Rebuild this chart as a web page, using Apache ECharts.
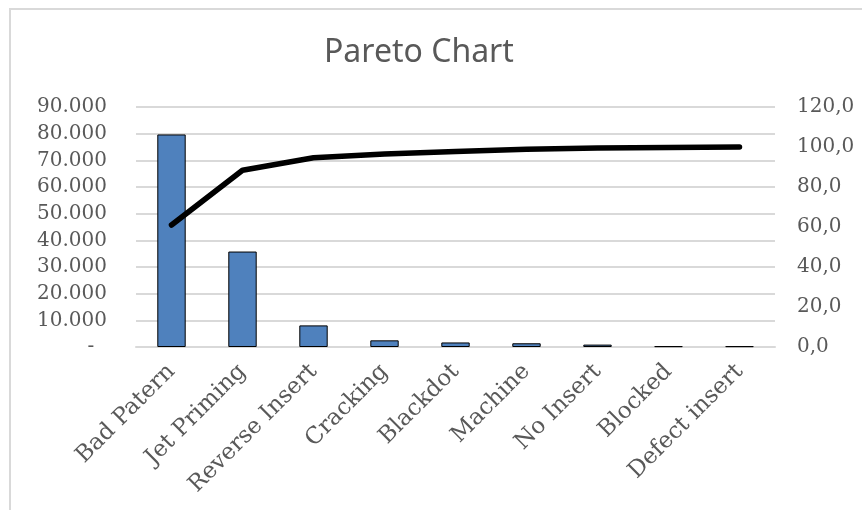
<!DOCTYPE html>
<html>
<head>
<meta charset="utf-8">
<script src="https://cdn.jsdelivr.net/npm/echarts@6/dist/echarts.min.js"></script>
<style>
html,body{margin:0;padding:0;background:#fff;}
#chart{width:862px;height:510px;}
</style>
</head>
<body>
<div id="chart"></div>
<script>
const categories = ['Bad Patern','Jet Priming','Reverse Insert','Cracking','Blackdot','Machine','No Insert','Blocked','Defect insert'];
const counts = [79700, 35800, 8100, 2500, 1700, 1400, 900, 300, 300];
const cumulativePct = [61.0, 88.4, 94.6, 96.5, 97.8, 98.9, 99.5, 99.8, 100.0];
const leftAxis = {min: 0, max: 90000, interval: 10000};
const rightAxis = {min: 0, max: 120, interval: 20};

const serif = 'DejaVu Serif';
const textColor = '#595959';
const gridColor = '#d9d9d9';

function fmtLeft(v){
  if (v === 0) return '-  ';
  return String(v).replace(/\B(?=(\d{3})+(?!\d))/g, '.');
}
function fmtRight(v){
  return v.toFixed(1).replace('.', ',');
}

const chart = echarts.init(document.getElementById('chart'));
chart.setOption({
  animation: false,
  backgroundColor: '#fff',
  graphic: [{
    type: 'rect',
    shape: {x: 10, y: 9, width: 1000, height: 1000},
    style: {fill: 'none', stroke: gridColor, lineWidth: 2},
    silent: true
  }],
  title: {
    text: 'Pareto Chart',
    left: 319,
    top: 32,
    textStyle: {fontFamily: 'Noto Sans', fontSize: 32, fontWeight: 'normal', color: textColor}
  },
  grid: {left: 136, right: 87, top: 107, bottom: 163, containLabel: false},
  xAxis: {
    type: 'category',
    data: categories,
    boundaryGap: true,
    axisLine: {show: true, lineStyle: {color: gridColor, width: 2}},
    axisTick: {show: false},
    axisLabel: {rotate: 45, margin: 21, fontFamily: serif, fontSize: 23, color: textColor, interval: 0}
  },
  yAxis: [{
    type: 'value',
    min: leftAxis.min, max: leftAxis.max, interval: leftAxis.interval,
    axisLine: {show: false},
    axisTick: {show: false},
    splitLine: {show: true, lineStyle: {color: gridColor, width: 2}},
    axisLabel: {margin: 29, fontFamily: serif, fontSize: 20, color: textColor, formatter: fmtLeft}
  }, {
    type: 'value',
    min: rightAxis.min, max: rightAxis.max, interval: rightAxis.interval,
    position: 'right',
    axisLine: {show: false},
    axisTick: {show: false},
    splitLine: {show: false},
    axisLabel: {margin: 22, fontFamily: serif, fontSize: 20, color: textColor, formatter: fmtRight}
  }],
  series: [{
    type: 'bar',
    data: counts,
    yAxisIndex: 0,
    barWidth: '40%',
    itemStyle: {color: '#4f81bd', borderColor: '#000', borderWidth: 1}
  }, {
    type: 'line',
    data: cumulativePct,
    yAxisIndex: 1,
    symbol: 'none',
    smooth: false,
    lineStyle: {color: '#000', width: 5.5, cap: 'round', join: 'round'}
  }]
});
</script>
</body>
</html>
